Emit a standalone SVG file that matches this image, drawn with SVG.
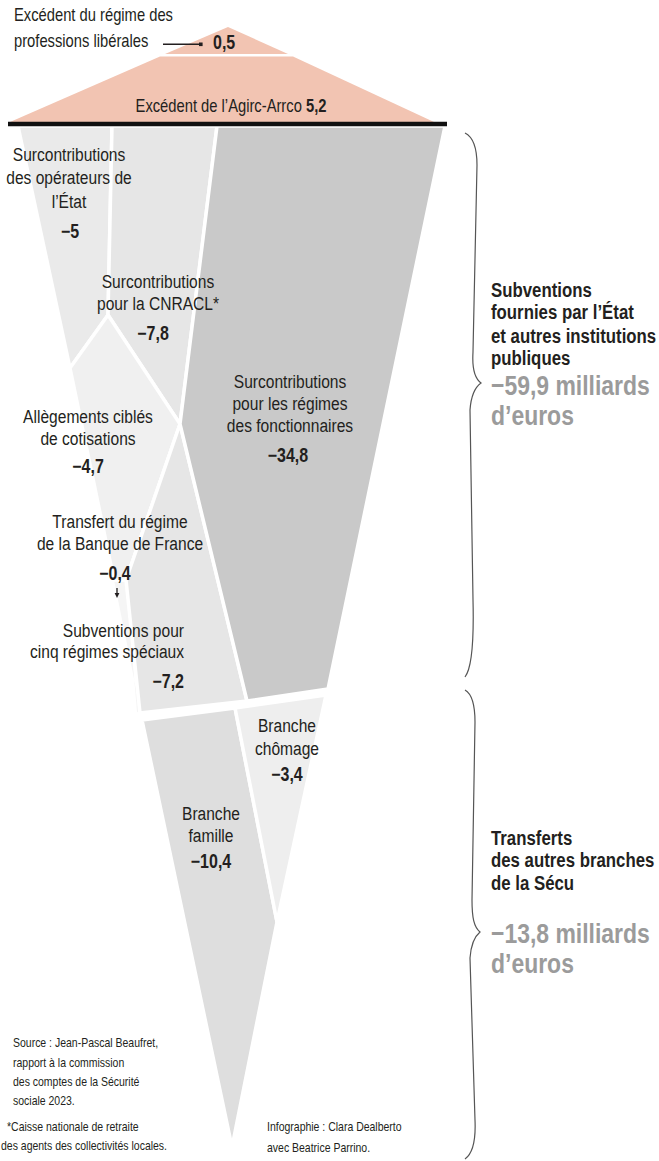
<svg xmlns="http://www.w3.org/2000/svg" width="659" height="1161" viewBox="0 0 659 1161">
<style>
text{font-family:"Liberation Sans",Arial,sans-serif;fill:#231f20}
.nar{}
.l{font-size:19px}
.c{text-anchor:middle}
.e{text-anchor:end}
.n{font-size:19.5px;font-weight:bold}
.h{font-size:20.5px;font-weight:bold}
.g{font-size:28px;font-weight:bold;fill:#9b9b9b}
.f{font-size:12.8px}
.t{font-size:18px}
.seg{stroke:#fff;stroke-width:3.5;stroke-linejoin:round}
.pink{fill:#f2c4b2}
.br{fill:none;stroke:#555;stroke-width:1.2}
</style>
<rect width="659" height="1161" fill="#fff"/>
<g id="segments">
<polygon id="seg-liberales" class="pink" points="228,27 165,54 288,54"/>
<polygon id="seg-agirc" class="pink" points="160,56.5 293,56.5 434,122 10,122"/>
<polygon id="seg-operateurs" class="seg" points="18,126 112,126 108,315 70,368" fill="#eaeaea"/>
<polygon id="seg-cnracl" class="seg" points="112,126 217,126 180,424 108,315" fill="#e6e6e6"/>
<polygon id="seg-transfert" points="114,580 126,580 137,712 141,713" fill="#f5f5f5"/>
<polygon id="seg-allegements" class="seg" points="70,368 108,315 180,424 126,580 114,580" fill="#f0f0f0"/>
<polygon id="seg-speciaux" class="seg" points="180,424 247,701 140,713 126,580" fill="#e6e6e6"/>
<polygon id="seg-fonctionnaires" class="seg" points="217,126 445,126 328,689 247,701 180,424" fill="#c9c9c9"/>
<polygon id="seg-famille" class="seg" points="142,720 235,708 277,922 232,1147" fill="#dedede"/>
<polygon id="seg-chomage" class="seg" points="235,708 326,695 277,922" fill="#eeeeee"/>
<line x1="8" y1="124" x2="447" y2="124" stroke="#111" stroke-width="4.5"/>
</g>
<g id="connectors">
<line x1="163" y1="44.3" x2="200" y2="44.3" stroke="#231f20" stroke-width="1.5"/>
<rect x="199" y="42.5" width="3.6" height="3.6" fill="#231f20"/>
<line x1="117" y1="588" x2="117" y2="594" stroke="#231f20" stroke-width="1.3"/>
<polygon points="114.6,593 119.4,593 117,598" fill="#231f20"/>
</g>
<g id="liberales" transform="scale(0.82,1)">
<text class="t" x="17.07" y="21">Excédent du régime des</text>
<text class="t" x="17.07" y="47">professions libérales</text>
<text class="n" x="259.76" y="49">0,5</text>
</g>
<g id="agirc" transform="scale(0.82,1)">
<text class="t c" x="281.71" y="112">Excédent de l’Agirc-Arrco <tspan font-weight="bold">5,2</tspan></text>
</g>
<g id="operateurs" transform="scale(0.82,1)">
<text class="l c" x="84.15" y="161">Surcontributions</text>
<text class="l c" x="84.15" y="184">des opérateurs de</text>
<text class="l c" x="84.15" y="208">l’État</text>
<text class="n c" x="85.37" y="238">−5</text>
</g>
<g id="cnracl" transform="scale(0.82,1)">
<text class="l c" x="192.68" y="288">Surcontributions</text>
<text class="l c" x="192.68" y="310">pour la CNRACL*</text>
<text class="n c" x="186.59" y="340">−7,8</text>
</g>
<g id="fonctionnaires" transform="scale(0.82,1)">
<text class="l c" x="353.66" y="388">Surcontributions</text>
<text class="l c" x="353.66" y="410">pour les régimes</text>
<text class="l c" x="353.66" y="432">des fonctionnaires</text>
<text class="n c" x="351.22" y="462">−34,8</text>
</g>
<g id="allegements" transform="scale(0.82,1)">
<text class="l c" x="107.32" y="423">Allègements ciblés</text>
<text class="l c" x="107.32" y="445">de cotisations</text>
<text class="n c" x="107.32" y="473">−4,7</text>
</g>
<g id="transfert" transform="scale(0.82,1)">
<text class="l c" x="146.34" y="528">Transfert du régime</text>
<text class="l c" x="146.34" y="550">de la Banque de France</text>
<text class="n c" x="140.24" y="580">−0,4</text>
</g>
<g id="speciaux" transform="scale(0.82,1)">
<text class="l e" x="224.39" y="637">Subventions pour</text>
<text class="l e" x="224.39" y="658">cinq régimes spéciaux</text>
<text class="n e" x="224.39" y="688">−7,2</text>
</g>
<g id="chomage" transform="scale(0.82,1)">
<text class="l c" x="350" y="732">Branche</text>
<text class="l c" x="350" y="755">chômage</text>
<text class="n c" x="350" y="781">−3,4</text>
</g>
<g id="famille" transform="scale(0.82,1)">
<text class="l c" x="257.32" y="820">Branche</text>
<text class="l c" x="257.32" y="842">famille</text>
<text class="n c" x="257.32" y="868">−10,4</text>
</g>
<g id="brace-etat">
<path class="br" d="M465,133 C473,137 477,148 477,165 L473,352 C472,368 474,378 481,383 C474,388 471,396 470,410 L473,600 C474,640 472,668 465,677"/>
<g transform="scale(0.82,1)">
<text class="h" x="598.78" y="297">Subventions</text>
<text class="h" x="598.78" y="319">fournies par l’État</text>
<text class="h" x="598.78" y="343">et autres institutions</text>
<text class="h" x="598.78" y="365">publiques</text>
<text class="g" x="598.78" y="395">−59,9 milliards</text>
<text class="g" x="598.78" y="425">d’euros</text>
</g>
</g>
<g id="brace-secu">
<path class="br" d="M465,690 C472,694 475,705 475,722 L472,900 C472,918 474,927 480,932 C474,937 471,944 470,958 L475,1120 C476,1142 472,1154 465,1159"/>
<g transform="scale(0.82,1)">
<text class="h" x="598.78" y="845">Transferts</text>
<text class="h" x="598.78" y="867">des autres branches</text>
<text class="h" x="598.78" y="890">de la Sécu</text>
<text class="g" x="598.78" y="943">−13,8 milliards</text>
<text class="g" x="598.78" y="973">d’euros</text>
</g>
</g>
<g id="notes" transform="scale(0.82,1)">
<text class="f" x="15.85" y="1047">Source : Jean-Pascal Beaufret,</text>
<text class="f" x="15.85" y="1067">rapport à la commission</text>
<text class="f" x="15.85" y="1086">des comptes de la Sécurité</text>
<text class="f" x="15.85" y="1105">sociale 2023.</text>
<text class="f" x="8.54" y="1131">*Caisse nationale de retraite</text>
<text class="f" x="1.22" y="1150">des agents des collectivités locales.</text>
<text class="f" x="325.61" y="1131">Infographie : Clara Dealberto</text>
<text class="f" x="325.61" y="1152">avec Beatrice Parrino.</text>
</g>
</svg>
